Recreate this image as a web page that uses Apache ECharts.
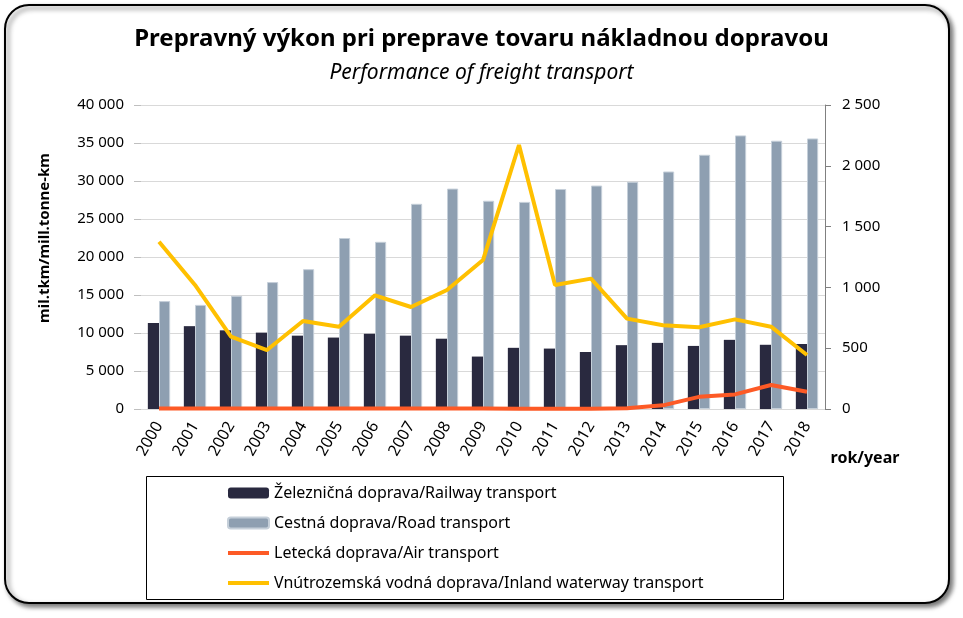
<!DOCTYPE html>
<html>
<head>
<meta charset="utf-8">
<script src="https://cdn.jsdelivr.net/npm/echarts@6/dist/echarts.min.js"></script>
<style>
html,body{margin:0;padding:0;background:#fff;}
#c{width:963px;height:618px;}
</style>
</head>
<body>
<div id="c"></div>
<script>
const years = ['2000','2001','2002','2003','2004','2005','2006','2007','2008','2009','2010','2011','2012','2013','2014','2015','2016','2017','2018'];
const railway = [11300, 10900, 10350, 10050, 9650, 9400, 9900, 9650, 9250, 6900, 8050, 7950, 7500, 8400, 8700, 8300, 9100, 8450, 8550];
const road = [14200, 13700, 14900, 16700, 18400, 22500, 22000, 27000, 29000, 27400, 27250, 28950, 29400, 29900, 31250, 33450, 36000, 35300, 35600];
const air = [5, 5, 5, 5, 5, 5, 5, 5, 5, 4, 2, 2, 2, 6, 30, 100, 120, 197, 142];
const waterway = [1376, 1020, 595, 485, 724, 677, 935, 839, 979, 1225, 2171, 1020, 1072, 743, 688, 672, 737, 677, 444];

const seriesNames = [
  'Železničná doprava/Railway transport',
  'Cestná doprava/Road transport',
  'Letecká doprava/Air transport',
  'Vnútrozemská vodná doprava/Inland waterway transport'
];
const titleText = 'Prepravný výkon pri preprave tovaru nákladnou dopravou';
const subtitleText = 'Performance of freight transport';
const yAxisName = 'mil.tkm/mill.tonne-km';
const xAxisName = 'rok/year';

const FONT = "'Noto Sans', sans-serif";
function fmt(v){ return String(v).replace(/\B(?=(\d{3})+(?!\d))/g, ' '); }
const LINE_ICON = 'path://M0,0 M0,3.5 L41,3.5 L41,7.5 L0,7.5 Z M41,11';

const chart = echarts.init(document.getElementById('c'), null, {renderer:'canvas'});
chart.setOption({
  animation: false,
  textStyle: {fontFamily: FONT},
  title: [
    {text: titleText, left: 'center', top: 22,
     textStyle: {fontFamily: FONT, fontSize: 24, fontWeight: 'bold', color: '#000'}},
    {text: subtitleText, left: 'center', top: 58,
     textStyle: {fontFamily: FONT, fontSize: 21, fontWeight: 'normal', fontStyle: 'italic', color: '#000'}}
  ],
  graphic: [
    {type: 'rect', z: -10, shape: {x: 5, y: 5, width: 944, height: 598, r: 24},
     style: {fill: '#fff', stroke: '#000', lineWidth: 2, shadowBlur: 5, shadowOffsetX: 3, shadowOffsetY: 3, shadowColor: 'rgba(0,0,0,0.55)'}},
    {type: 'rect', z: 1, shape: {x: 146.5, y: 476.5, width: 637, height: 123},
     style: {fill: 'none', stroke: '#000', lineWidth: 1}},
    {type: 'text', z: 5, x: 45, y: 238, rotation: Math.PI/2,
     style: {text: yAxisName, font: "bold 15px " + FONT, fill: '#000', align: 'center', verticalAlign: 'middle'}},
    {type: 'text', z: 5, x: 865, y: 458,
     style: {text: xAxisName, font: "bold 16px " + FONT, fill: '#000', align: 'center', verticalAlign: 'middle'}}
  ],
  legend: {
    orient: 'vertical', left: 227, top: 485, padding: 0,
    itemWidth: 41, itemHeight: 11, itemGap: 14,
    textStyle: {fontFamily: FONT, fontSize: 16, color: '#000'},
    data: [
      {name: seriesNames[0]},
      {name: seriesNames[1]},
      {name: seriesNames[2], icon: LINE_ICON},
      {name: seriesNames[3], icon: LINE_ICON}
    ]
  },
  grid: {left: 141, right: 138, top: 105, bottom: 209, containLabel: false},
  xAxis: {
    type: 'category', data: years,
    axisLine: {show: true, lineStyle: {color: '#d9d9d9'}},
    axisTick: {show: false},
    axisLabel: {rotate: 60, fontSize: 16, color: '#000', margin: 14, fontFamily: FONT}
  },
  yAxis: [
    {type: 'value', min: 0, max: 40000, interval: 5000, position: 'left',
     axisLine: {show: false},
     axisTick: {show: true, length: 7, lineStyle: {color: '#bfbfbf'}},
     axisLabel: {fontSize: 15, color: '#000', margin: 17, formatter: fmt, fontFamily: FONT},
     splitLine: {show: true, lineStyle: {color: '#d9d9d9', width: 1}}},
    {type: 'value', min: 0, max: 2500, interval: 500, position: 'right',
     axisLine: {show: true, lineStyle: {color: '#808080', width: 1}},
     axisTick: {show: true, length: 6, lineStyle: {color: '#808080'}},
     axisLabel: {fontSize: 15, color: '#000', margin: 17, formatter: fmt, fontFamily: FONT},
     splitLine: {show: false}}
  ],
  series: [
    {name: seriesNames[0], type: 'bar', yAxisIndex: 0, data: railway,
     barWidth: '31%', barGap: '0%',
     itemStyle: {color: '#29293f'}},
    {name: seriesNames[1], type: 'bar', yAxisIndex: 0, data: road,
     barWidth: '31%', barGap: '0%',
     itemStyle: {color: '#8e9fb1', borderColor: '#c5cfd9', borderWidth: 1}},
    {name: seriesNames[2], type: 'line', yAxisIndex: 1, data: air,
     symbol: 'none', z: 4,
     lineStyle: {color: '#fd5a26', width: 4}, itemStyle: {color: '#fd5a26'}},
    {name: seriesNames[3], type: 'line', yAxisIndex: 1, data: waterway,
     symbol: 'none', z: 3,
     lineStyle: {color: '#ffc000', width: 4}, itemStyle: {color: '#ffc000'}}
  ]
});
</script>
</body>
</html>
